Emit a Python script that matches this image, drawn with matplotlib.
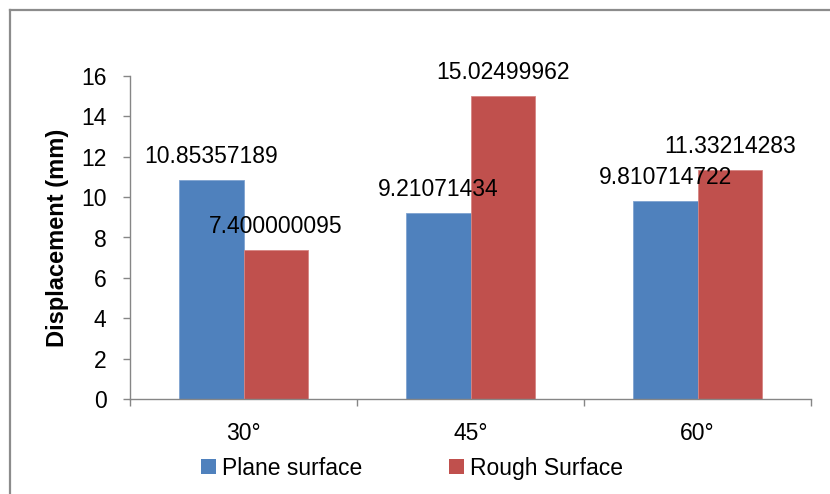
import matplotlib
matplotlib.use('Agg')
import matplotlib.pyplot as plt
from matplotlib.lines import Line2D
from matplotlib.patches import Patch
import numpy as np

angles = ['30°', '45°', '60°']
plane = [10.85357189, 9.21071434, 9.810714722]
rough = [7.400000095, 15.02499962, 11.33214283]
plane_txt = ['10.85357189', '9.21071434', '9.810714722']
rough_txt = ['7.400000095', '15.02499962', '11.33214283']

blue = '#4F81BD'
red = '#C0504D'
grey = '#868686'

plt.rcParams['font.family'] = ['Liberation Sans', 'DejaVu Sans']

W, H = 830, 494
fig = plt.figure(figsize=(W / 100, H / 100), dpi=100)
ax = fig.add_axes([130 / W, 1 - 399 / H, (811 - 130) / W, (399 - 76) / H])

x = np.arange(len(angles))
bw = 0.285
b1 = ax.bar(x - bw / 2, plane, bw, color=blue, edgecolor='#7fa3d1', linewidth=0.6)
b2 = ax.bar(x + bw / 2, rough, bw, color=red, edgecolor='#d68583', linewidth=0.6)

for bars, txts in ((b1, plane_txt), (b2, rough_txt)):
    for rect, t in zip(bars, txts):
        ax.annotate(t, (rect.get_x() + rect.get_width() / 2, rect.get_height()),
                    xytext=(0, 17), textcoords='offset pixels',
                    ha='center', va='baseline', fontsize=16.5)

ax.set_xlim(-0.5, 2.5)
ax.set_ylim(0, 16)
ax.set_yticks(range(0, 17, 2))
ax.set_xticks([-0.5, 0.5, 1.5, 2.5])
ax.set_xticklabels([])
ax.set_xticks(x, minor=True)
ax.set_xticklabels(angles, minor=True)
ax.tick_params(axis='x', which='major', direction='out', length=5, width=1, color=grey)
ax.tick_params(axis='x', which='minor', length=0, pad=16.5, labelsize=16.5)
ax.tick_params(axis='y', direction='out', length=5, width=1, color=grey, pad=12, labelsize=16.5)

for s in ['top', 'right']:
    ax.spines[s].set_visible(False)
for s in ['left', 'bottom']:
    ax.spines[s].set_color(grey)
    ax.spines[s].set_linewidth(1)

fig.text(57.5 / W, 1 - 238 / H, 'Displacement (mm)', rotation=90,
         ha='center', va='center', fontsize=17, fontweight='bold')

handles = [Patch(facecolor=blue, label='Plane surface'),
           Patch(facecolor=red, label='Rough Surface')]
fig.legend(handles=handles, loc='center', bbox_to_anchor=(412 / W, 1 - 468 / H),
           ncol=2, frameon=False, fontsize=16.5, handlelength=0.65, handleheight=0.65,
           handletextpad=0.25, columnspacing=3.8, borderpad=0)

# outer chart frame
fig.add_artist(Line2D([10 / W, 1], [1 - 10 / H, 1 - 10 / H], color='#8c8c8c', lw=1.6))
fig.add_artist(Line2D([10 / W, 10 / W], [0, 1 - 10 / H], color='#8c8c8c', lw=1.6))

fig.savefig('out.png', dpi=100)
